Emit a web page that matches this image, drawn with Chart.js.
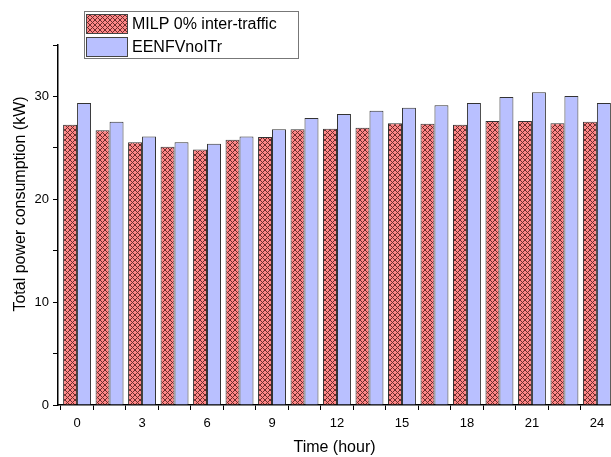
<!DOCTYPE html>
<html>
<head>
<meta charset="utf-8">
<script src="https://cdn.jsdelivr.net/npm/chart.js@4.4.1/dist/chart.umd.min.js"></script>
<style>
  body { margin: 0; background: #fff; }
  #wrap { width: 611px; height: 457px; position: relative; }
</style>
</head>
<body>
<div id="wrap"><canvas id="barChart"></canvas></div>
<script>
"use strict";

// hours (one bar group every 1.5 h)
const hours = [0, 1.5, 3, 4.5, 6, 7.5, 9, 10.5, 12, 13.5, 15, 16.5, 18, 19.5, 21, 22.5, 24];
const milp = [27.25, 26.7, 25.55, 25.1, 24.85, 25.8, 26.05, 26.8, 26.85, 26.95, 27.4, 27.35, 27.25, 27.6, 27.6, 27.4, 27.55];
const eenfv = [29.35, 27.55, 26.1, 25.55, 25.4, 26.1, 26.8, 27.9, 28.3, 28.6, 28.9, 29.15, 29.35, 29.95, 30.4, 30.05, 29.35];
const xLabels = [0, 3, 6, 9, 12, 15, 18, 21, 24];
const yLabels = [0, 10, 20, 30];
const yTitle = "Total power consumption (kW)";

const font = "'Liberation Sans', Arial, sans-serif";

// red crosshatch fill, pixel X per 5x5 tile
function crossHatch() {
  const n = 5;
  const c = document.createElement("canvas");
  c.width = n;
  c.height = n;
  const g = c.getContext("2d");
  g.fillStyle = "rgb(255, 135, 135)";
  g.fillRect(0, 0, n, n);
  g.fillStyle = "rgb(110, 45, 45)";
  for (let i = 0; i < n; i++) {
    g.fillRect(i, i, 1, 1);
    g.fillRect(i, n - 1 - i, 1, 1);
  }
  return g.createPattern(c, "repeat");
}
const hatch = crossHatch();
const blue = "rgb(185, 192, 255)";

// legend box inside the plot + y title (sits a bit above the axis middle)
const extras = {
  id: "extras",
  afterDraw(chart) {
    const ctx = chart.ctx;
    const x = 84, y = 11, w = 214, h = 47;
    ctx.save();
    ctx.fillStyle = "#fff";
    ctx.fillRect(x, y, w, h);
    ctx.strokeStyle = "#777";
    ctx.lineWidth = 1;
    ctx.strokeRect(x + 0.5, y + 0.5, w, h);
    ctx.font = "16px " + font;
    ctx.textBaseline = "middle";
    chart.data.datasets.forEach((ds, i) => {
      const ry = y + 3 + i * 23;
      ctx.fillStyle = ds.backgroundColor;
      ctx.fillRect(x + 2, ry, 41, 19);
      ctx.strokeStyle = "#444";
      ctx.strokeRect(x + 2.5, ry + 0.5, 41, 19);
      ctx.fillStyle = "#000";
      ctx.fillText(ds.label, x + 48, ry + 11);
    });

    const area = chart.chartArea;
    ctx.translate(21, (area.top + area.bottom) / 2 - 21);
    ctx.rotate(-Math.PI / 2);
    ctx.textAlign = "center";
    ctx.fillText(yTitle, 0, 0);
    ctx.restore();
  },
};

const ctx = document.getElementById("barChart").getContext("2d");

new Chart(ctx, {
  type: "bar",
  data: {
    datasets: [
      {
        label: "MILP 0% inter-traffic",
        data: hours.map((h, i) => ({ x: h, y: milp[i] })),
        backgroundColor: hatch,
        borderColor: "#333",
        borderWidth: 1,
        categoryPercentage: 0.86,
        barPercentage: 1.0,
      },
      {
        label: "EENFVnoITr",
        data: hours.map((h, i) => ({ x: h, y: eenfv[i] })),
        backgroundColor: blue,
        borderColor: "#333",
        borderWidth: 1,
        categoryPercentage: 0.86,
        barPercentage: 1.0,
      },
    ],
  },
  options: {
    responsive: true,
    maintainAspectRatio: false,
    animation: false,
    layout: { padding: { top: 45, right: 0, left: 0, bottom: 0 } },
    plugins: {
      legend: { display: false },
      tooltip: { enabled: false },
    },
    scales: {
      x: {
        type: "linear",
        offset: false,
        min: -0.88,
        max: 24.65,
        afterBuildTicks: (axis) => {
          axis.ticks = hours.map((v) => ({ value: v }));
        },
        afterFit: (scale) => { scale.height = 52; },
        ticks: {
          autoSkip: false,
          maxRotation: 0,
          color: "#000",
          font: { family: font, size: 13 },
          padding: 6,
          callback: (v) => (xLabels.includes(v) ? String(v) : ""),
        },
        grid: { drawOnChartArea: false, drawTicks: true, tickLength: 5, color: "#000" },
        border: { color: "#000", width: 1.5 },
        title: {
          display: true,
          text: "Time (hour)",
          color: "#000",
          font: { family: font, size: 16 },
          padding: { top: 4, bottom: 0 },
        },
      },
      y: {
        min: 0,
        max: 35,
        afterFit: (scale) => { scale.width = 58; },
        ticks: {
          stepSize: 5,
          color: "#000",
          font: { family: font, size: 13 },
          padding: 4,
          callback: (v) => (yLabels.includes(v) ? String(v) : ""),
        },
        grid: { drawOnChartArea: false, drawTicks: true, tickLength: 5, color: "#000" },
        border: { color: "#000", width: 1.5 },
        title: { display: false },
      },
    },
  },
  plugins: [extras],
});
</script>
</body>
</html>
